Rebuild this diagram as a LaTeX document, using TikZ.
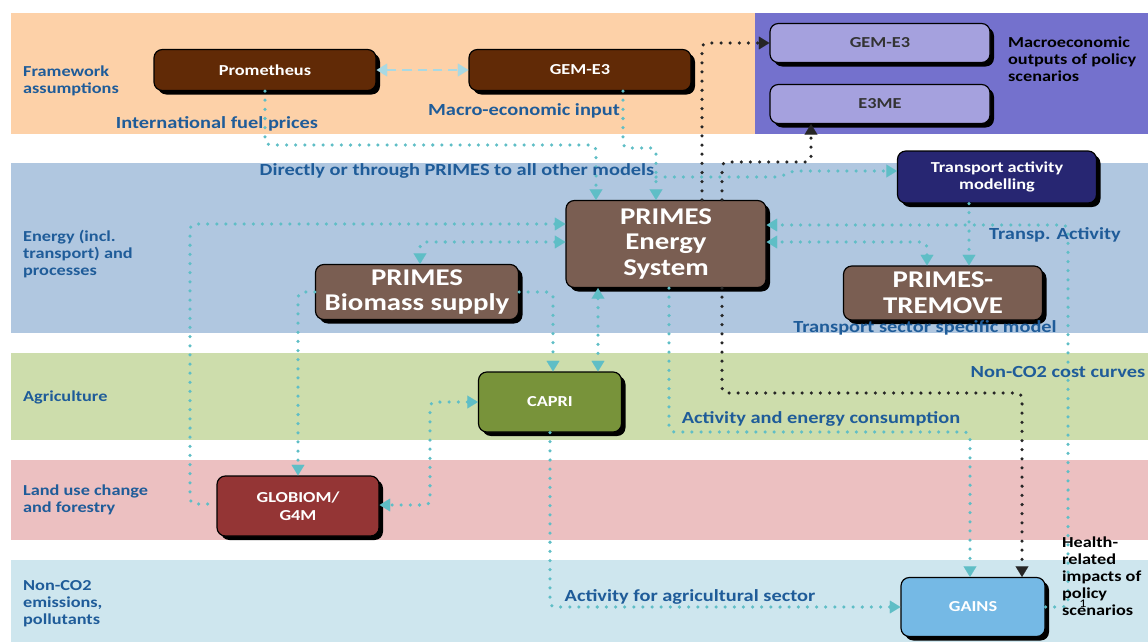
\documentclass[tikz,border=0pt]{standalone}
\usepackage{fontspec}
\setmainfont{Carlito}[FakeStretch=1.2]
\usetikzlibrary{arrows.meta, shadows}

\definecolor{frameband}{HTML}{FDD1A8}
\definecolor{outband}{HTML}{7471CD}
\definecolor{energyband}{HTML}{B0C7E0}
\definecolor{agriband}{HTML}{CDDDAC}
\definecolor{landband}{HTML}{ECC0C1}
\definecolor{gasband}{HTML}{CEE6EE}
\definecolor{lblblue}{HTML}{1F5C99}
\definecolor{teal}{HTML}{5FBEC6}
\definecolor{paleblue}{HTML}{A9D9E3}
\definecolor{darkbrown}{HTML}{612A06}
\definecolor{lilac}{HTML}{A5A1DE}
\definecolor{navy}{HTML}{272672}
\definecolor{primesbrown}{HTML}{7A5E52}
\definecolor{capgreen}{HTML}{78933A}
\definecolor{globred}{HTML}{943535}
\definecolor{gainsblue}{HTML}{75B9E5}

\begin{document}
\begin{tikzpicture}[x=0.3mm, y=-0.3mm,
  model/.style={draw=black, line width=1pt, rounded corners=2.5mm, inner sep=0pt,
    text=white, align=center, font=\bfseries\fontsize{13}{15}\selectfont,
    drop shadow={shadow xshift=1.2mm, shadow yshift=-1.2mm, opacity=1, fill=black}},
  bigmodel/.style={model, font=\bfseries\fontsize{20.5}{22}\selectfont},
  side/.style={text=lblblue, font=\bfseries\fontsize{13}{14.5}\selectfont, align=left},
  lbl/.style={text=lblblue, font=\bfseries\fontsize{14.5}{16}\selectfont},
  note/.style={text=black, font=\bfseries\fontsize{13}{14.5}\selectfont, align=left},
  tip/.style={-{Triangle[width=11pt, length=9pt, line width=0.1pt]}},
  both/.style={{Triangle[width=11pt, length=9pt, line width=0.1pt]}-{Triangle[width=11pt, length=9pt, line width=0.1pt]}},
  backtip/.style={{Triangle[width=11pt, length=9pt, line width=0.1pt]}-},
  flow/.style={draw=teal, line width=3pt, line cap=round, dash pattern=on 0pt off 7.8pt, rounded corners=1.5mm},
  blackflow/.style={flow, draw=black!85},
  link/.style={draw=paleblue, line width=2.5pt, dash pattern=on 8pt off 5pt}]

\useasboundingbox (0,0) rectangle (1148,642);

% bands
\fill[frameband] (11,13) rectangle (755,134);
\fill[outband] (755,13) rectangle (1148,134);
\fill[energyband] (11,163) rectangle (1148,333);
\fill[agriband] (11,353) rectangle (1148,440);
\fill[landband] (11,460) rectangle (1148,540);
\fill[gasband] (11,560) rectangle (1148,642);

\node[side, anchor=west] at (19,81) {Framework\\assumptions};
\node[side, anchor=west] at (19,254) {Energy (incl.\\transport) and\\processes};
\node[side, anchor=west] at (19,397) {Agriculture};
\node[side, anchor=west] at (19,500) {Land use change\\and forestry};
\node[side, anchor=west] at (19,604) {Non-CO2\\emissions,\\pollutants};

% models
\node[model, fill=darkbrown, minimum width=66.6mm, minimum height=12.3mm] (prom) at (265,70) {Prometheus};
\node[model, fill=darkbrown, minimum width=66.6mm, minimum height=12.3mm] (gem) at (580,70) {GEM-E3};
\node[model, fill=lilac, text=black!80, minimum width=66mm, minimum height=11.7mm] (gemout) at (880,43) {GEM-E3};
\node[model, fill=lilac, text=black!80, minimum width=66mm, minimum height=11.7mm] (e3me) at (880,104) {E3ME};
\node[model, fill=navy, minimum width=59.7mm, minimum height=15.6mm] (transp) at (997,177) {Transport activity\\modelling};
\node[bigmodel, fill=primesbrown, minimum width=60mm, minimum height=26.1mm] (primes) at (666,244) {PRIMES\\Energy\\System};
\node[bigmodel, fill=primesbrown, minimum width=60.9mm, minimum height=16.5mm] (biomass) at (417,292) {PRIMES\\Biomass supply};
\node[bigmodel, fill=primesbrown, minimum width=59.7mm, minimum height=16.2mm] (tremove) at (943,293) {PRIMES-\\TREMOVE};
\node[model, fill=capgreen, minimum width=42.9mm, minimum height=18mm] (capri) at (550,402) {CAPRI};
\node[model, fill=globred, minimum width=48.6mm, minimum height=18mm] (globiom) at (298,506) {GLOBIOM/\\G4M};
\node[model, fill=gainsblue, minimum width=43.2mm, minimum height=17.7mm] (gains) at (973,607) {GAINS};

\node[note, anchor=west] at (1004,59) {Macroeconomic\\outputs of policy\\scenarios};

% connectors
\draw[link, both, draw=paleblue, fill=paleblue] (prom.east) -- (gem.west);
\draw[flow, tip] (prom.south) -- (prom.south |- 0,145) -| (596,0 |- primes.north);
\draw[flow, tip] (gem.south -| 623,0) -- (623,148) -| (656,0 |- primes.north);
\coordinate (branch) at (656,177);
\draw[flow, tip] (branch) -- (780,177) -- (792,171) -- (transp.west |- 0,171);
\draw[blackflow, tip] (702,0 |- primes.north) -- (702,43) -- (gemout.west);
\draw[blackflow, tip] (722,0 |- primes.north) -- (722,162) -| (811,0 |- e3me.south);
\draw[blackflow, tip] (722,0 |- primes.south) -- (722,393) -| (1022,0 |- gains.north);
\draw[flow, tip] (669,0 |- primes.south) -- (669,432) -| (970,0 |- gains.north);
\draw[flow, both] (598,0 |- primes.south) -- (598,0 |- capri.north);
\draw[flow, tip] (biomass.east) -| (553,0 |- capri.north);
\draw[flow, both] (primes.west |- 0,242) -| (420,0 |- biomass.north);
\draw[flow, backtip] (primes.west |- 0,224) -| (190,504) -- (globiom.west |- 0,504);
\draw[flow, tip] (biomass.west) -| (298,0 |- globiom.north);
\draw[flow, both] (capri.west) -| (430,505) -- (globiom.east |- 0,505);
\draw[flow, tip] (capri.south) |- (gains.west);
\draw[flow, tip] (969,0 |- transp.south) -- (969,0 |- tremove.north);
\draw[flow, both] (927,0 |- tremove.north) |- (primes.east |- 0,242);
\draw[flow, tip] (gains.east) -| (1068,225) -- (primes.east |- 0,225);

% connector labels
\node[lbl] at (217,124) {International fuel prices};
\node[lbl] at (524,111) {Macro-economic input};
\node[lbl] at (457,171) {Directly or through PRIMES to all other models};
\node[lbl] at (1055,235) {Transp. Activity};
\node[lbl] at (925,328) {Transport sector specific model};
\node[lbl] at (1058,372) {Non-CO2 cost curves};
\node[lbl] at (821,419) {Activity and energy consumption};
\node[lbl] at (690,597) {Activity for agricultural sector};

\node[note, anchor=west] at (1058,576) {Health-\\related\\impacts of\\policy\\scenarios};
\node[font=\fontsize{10}{12}\selectfont] (pageno) at (1083,604) {1};
\end{tikzpicture}
\end{document}
